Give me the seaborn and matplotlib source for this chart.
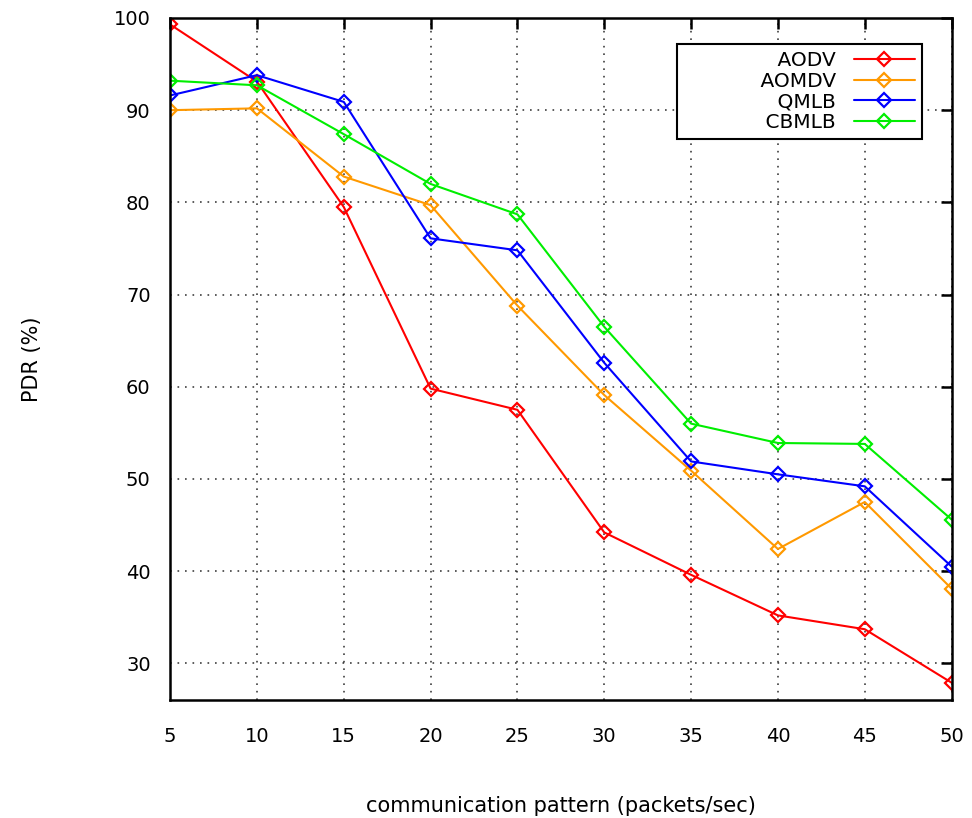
import numpy as np
import pandas as pd
import matplotlib
matplotlib.use("Agg")
import matplotlib.pyplot as plt
import seaborn as sns

# Data
rates = [5, 10, 15, 20, 25, 30, 35, 40, 45, 50]
aodv = [99.3, 93.1, 79.5, 59.8, 57.5, 44.2, 39.6, 35.2, 33.7, 27.9]
aomdv = [90.0, 90.2, 82.8, 79.7, 68.8, 59.1, 50.9, 42.4, 47.5, 38.1]
qmlb = [91.6, 93.8, 90.9, 76.1, 74.8, 62.6, 51.9, 50.5, 49.2, 40.5]
cbmlb = [93.2, 92.7, 87.4, 82.0, 78.7, 66.5, 56.0, 53.9, 53.8, 45.6]

series = ["AODV", "AOMDV", "QMLB", "CBMLB"]
colors = ["#ff0000", "#ff9900", "#0000ff", "#00ee00"]
yticks = [30, 40, 50, 60, 70, 80, 90, 100]

df = pd.DataFrame({"rate": rates * 4,
                   "pdr": aodv + aomdv + qmlb + cbmlb,
                   "protocol": [s for s in series for _ in rates]})

sns.set_style("white")
plt.rcParams['font.family'] = ['DejaVu Sans']
plt.rcParams['text.color'] = 'black'
plt.rcParams['xtick.color'] = 'black'
plt.rcParams['ytick.color'] = 'black'
plt.rcParams['axes.labelcolor'] = 'black'

fig = plt.figure(figsize=(9.72, 8.18), dpi=100)
ax = fig.add_axes([0.175, 0.144, 0.804, 0.834])

sns.lineplot(data=df, x="rate", y="pdr", hue="protocol", hue_order=series,
             palette=colors, marker="D", linewidth=1.5, ax=ax, legend=False)

for line, c in zip(ax.lines, colors):
    line.set_markerfacecolor("none")
    line.set_markeredgecolor(c)
    line.set_markeredgewidth(1.6)
    line.set_markersize(7)

ax.set_xlim(5, 50)
ax.set_ylim(26, 100)
ax.set_xticks(rates)
ax.set_yticks(yticks)
ax.grid(True, color="black", linestyle=(0, (1, 3.5)), linewidth=1.2, alpha=0.75)
for sp in ax.spines.values():
    sp.set_color("black")
    sp.set_linewidth(1.8)
ax.tick_params(direction="in", length=8, width=1.8, top=True, right=True,
               labelsize=14)
ax.tick_params(axis="x", pad=19)
ax.tick_params(axis="y", pad=14)
ax.set_xlabel("communication pattern (packets/sec)", fontsize=15, labelpad=36)
ax.set_ylabel("PDR (%)", fontsize=15, labelpad=52)

handles = [plt.Line2D([], [], color=c, marker="D", markersize=7, mfc="none",
                      mec=c, mew=1.6, lw=1.5) for c in colors]
labels = [" " * 12 + s for s in series]
leg = ax.legend(handles, labels, loc="upper right", bbox_to_anchor=(0.9745, 0.9765),
                markerfirst=False, fancybox=False, framealpha=1, edgecolor="black",
                fontsize=14.5, handlelength=3.0, labelspacing=0.08,
                borderpad=0.35, handletextpad=0.9)
leg.get_frame().set_linewidth(1.5)
for t in leg.get_texts():
    t.set_ha("right")

fig.savefig("out.png", dpi=100)
